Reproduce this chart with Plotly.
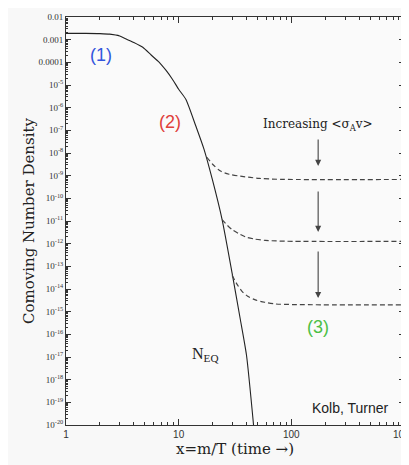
import math
import plotly.graph_objects as go

# Equilibrium curve N_EQ
x_eq = [1, 1.5, 2.0, 2.44, 3.0, 3.42, 4.0, 4.8, 5.7, 6.73, 7.7, 8.8, 10.0, 11.6, 14.2, 16.8, 19.9, 24.3, 29.8, 35.3, 40.0, 46.2]
y_eq = [1.9e-3, 1.9e-3, 1.85e-3, 1.75e-3, 1.45e-3, 1.07e-3, 7.5e-4, 4.6e-4, 2.1e-4, 1.0e-4, 4.5e-5, 1.8e-5, 6.5e-6, 2.3e-6, 1.55e-7, 1.45e-8, 6.8e-10, 1.15e-11, 5e-14, 4.4e-16, 1.2e-17, 1e-20]

# Freeze-out (dashed) curves
x_f1 = [17.8, 20, 23.5, 28, 35.3, 52, 80, 1000]
y_f1 = [6.5e-9, 3.2e-9, 1.6e-9, 1.15e-9, 9.5e-10, 7.6e-10, 6.9e-10, 6.8e-10]
x_f2 = [24.3, 27, 29.8, 34, 39, 47, 58.6, 90, 1000]
y_f2 = [1.15e-11, 6.5e-12, 4.2e-12, 2.8e-12, 2.0e-12, 1.6e-12, 1.4e-12, 1.28e-12, 1.26e-12]
x_f3 = [29.8, 33, 36.5, 41, 47.9, 58, 71.8, 110, 1000]
y_f3 = [4e-14, 1.6e-14, 7.9e-15, 4.8e-15, 3.3e-15, 2.6e-15, 2.2e-15, 2.05e-15, 2e-15]

y_tickvals = [10.0 ** (-k) for k in range(2, 21)]
y_ticktext = ["0.01", "0.001", "0.0001"] + ["10<sup>-%d</sup>" % k for k in range(5, 21)]
x_tickvals = [1, 10, 100, 1000]
x_ticktext = ["1", "10", "100", "1000"]

serif = "DejaVu Serif, Liberation Serif, serif"
sans = "Liberation Sans, Arial, sans-serif"

fig = go.Figure()
fig.add_trace(go.Scatter(x=x_eq, y=y_eq, mode="lines", line=dict(color="#222222", width=1.1, shape="spline", smoothing=0.6), hoverinfo="skip"))
for xs, ys in [(x_f1, y_f1), (x_f2, y_f2), (x_f3, y_f3)]:
    fig.add_trace(go.Scatter(x=xs, y=ys, mode="lines", line=dict(color="#444444", width=1.2, dash="5px,3px", shape="spline", smoothing=0.8), hoverinfo="skip"))

ax_x = math.log10(173)
arrows = [(-7.34, -8.57), (-9.63, -11.48), (-12.28, -14.40)]
annotations = []
for y0, y1 in arrows:
    annotations.append(dict(x=ax_x, y=y1, ax=ax_x, ay=y0, xref="x", yref="y", axref="x", ayref="y",
                            showarrow=True, arrowhead=2, arrowsize=1.1, arrowwidth=1.1, arrowcolor="#444444", text=""))

def txt(t, lx, ly, size, color, fam):
    return dict(x=lx, y=ly, xref="x", yref="y", text=t, showarrow=False,
                font=dict(size=size, color=color, family=fam), xanchor="center", yanchor="middle")

annotations += [
    txt("Increasing &lt;σ<sub>A</sub>v&gt;", ax_x, -6.78, 12, "#222222", serif),
    txt("(1)", 0.311, -3.68, 18, "#3355dd", sans),
    txt("(2)", 0.924, -6.63, 18, "#e0403a", sans),
    txt("(3)", ax_x, -15.67, 18, "#4cbf45", sans),
    txt("N<sub>EQ</sub>", 1.236, -16.9, 16, "#222222", "Liberation Serif, serif"),
    txt("Kolb, Turner", 2.524, -19.25, 14, "#222222", sans),
]

fig.update_layout(
    width=409, height=465,
    margin=dict(l=58, r=13, t=9, b=48),
    paper_bgcolor="#f8f8f8", plot_bgcolor="#fafafa",
    showlegend=False,
    annotations=annotations,
    xaxis=dict(type="log", range=[0, 3], tickvals=x_tickvals, ticktext=x_ticktext, automargin=False,
               ticks="inside", ticklen=6, tickcolor="#333", mirror="allticks", showline=True,
               linecolor="#333", linewidth=1, showgrid=False, zeroline=False,
               tickfont=dict(size=10, family=sans, color="#333"),
               minor=dict(ticks="inside", ticklen=3, tickcolor="#333", showgrid=False, dtick="D1"),
               title=dict(text="x=m/T (time →)", font=dict(size=15, family=serif, color="#222"), standoff=1)),
    yaxis=dict(type="log", range=[-20, -2], tickvals=y_tickvals, ticktext=y_ticktext, automargin=False,
               ticks="inside", ticklen=5, tickcolor="#333", mirror="allticks", showline=True,
               linecolor="#333", linewidth=1, showgrid=False, zeroline=False,
               tickfont=dict(size=9, family="Liberation Serif, serif", color="#333"),
               minor=dict(ticks="inside", ticklen=2, tickcolor="#333", showgrid=False, dtick="D1"),
               title=dict(text="Comoving Number Density", font=dict(size=15, family=serif, color="#222"), standoff=0)),
)

fig.write_html("out.html")
